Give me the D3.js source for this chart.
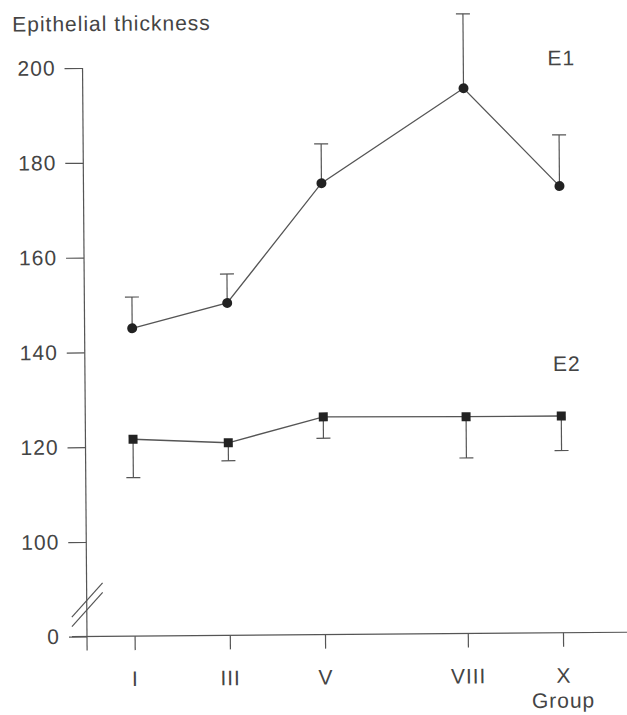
<!DOCTYPE html>
<html>
<head>
<meta charset="utf-8">
<script src="https://cdn.jsdelivr.net/npm/d3@7"></script>
<style>
	body { margin: 0; background: #fff; }
	svg text { font-family: "Liberation Sans", Arial, sans-serif; font-size: 21px; fill: #444; letter-spacing: 1px; }
</style>
</head>
<body>
<svg id="chart" width="627" height="715"></svg>
<script>
// group labels and their group number (drives the x spacing)
const groups = ['I', 'III', 'V', 'VIII', 'X'];
const groupNumbers = [1, 3, 5, 8, 10];

// E1 : mean + upper error bar
const e1Means = [145.0, 150.2, 175.3, 195.1, 174.3];
const e1Errors = [6.6, 6.1, 8.3, 15.7, 10.8];

// E2 : mean + lower error bar
const e2Means = [121.6, 120.7, 126.0, 125.8, 125.8];
const e2Errors = [8.1, 3.8, 4.5, 8.7, 7.3];

const yTicks = [0, 100, 120, 140, 160, 180, 200];

const INK = '#555';
const MARK = '#222';

const svg = d3.select('#chart');

// the scan is tilted a little, keep the same tilt
const canvas = svg.append('g').attr('transform', 'rotate(-0.45 87 636.5)');

const x = d3.scaleLinear().domain([0, 10]).range([87, 563]);
// broken axis: 0 sits just below 100
const y = d3.scaleLinear().domain([0, 100, 200]).range([636.5, 542, 68]);

// y axis
const yAxis = canvas
	.append('g')
	.attr('transform', `translate(${x(0)},0)`)
	.call(d3.axisLeft(y).tickValues(yTicks).tickSize(18).tickPadding(9).tickFormat(d3.format('d')));
yAxis.select('.domain').remove();
yAxis.selectAll('line').attr('stroke', INK).attr('stroke-width', 1.2);
yAxis.selectAll('text').attr('fill', '#444').style('font-size', '21px');

canvas
	.append('line')
	.attr('x1', x(0))
	.attr('x2', x(0))
	.attr('y1', y(200))
	.attr('y2', y(0) + 14)
	.attr('stroke', INK)
	.attr('stroke-width', 1.2);

// axis break marks
[600, 609.5].forEach((cy) => {
	canvas
		.append('line')
		.attr('x1', x(0) - 15)
		.attr('y1', cy + 17)
		.attr('x2', x(0) + 16)
		.attr('y2', cy - 17)
		.attr('stroke', INK)
		.attr('stroke-width', 1.2);
});

// x axis
const xAxis = canvas
	.append('g')
	.attr('transform', `translate(0,${y(0)})`)
	.call(d3.axisBottom(x).tickValues(groupNumbers).tickSize(14).tickPadding(21).tickFormat((d, i) => groups[i]));
xAxis.select('.domain').remove();
xAxis.selectAll('line').attr('stroke', INK).attr('stroke-width', 1.2);
xAxis.selectAll('text').attr('fill', '#444').style('font-size', '21px');

canvas
	.append('line')
	.attr('x1', x(0) - 15)
	.attr('x2', 640)
	.attr('y1', y(0))
	.attr('y2', y(0))
	.attr('stroke', INK)
	.attr('stroke-width', 1.2);

canvas
	.append('text')
	.attr('x', x(10))
	.attr('y', y(0) + 75)
	.attr('text-anchor', 'middle')
	.text('Group');

canvas
	.append('text')
	.attr('x', 17)
	.attr('y', 31)
	.text('Epithelial thickness');

function drawSeries(means, errors, dir, marker) {
	const pts = means.map((m, i) => ({ g: groupNumbers[i], m, e: errors[i] }));
	const line = d3.line().x((d) => x(d.g)).y((d) => y(d.m));

	canvas
		.append('path')
		.datum(pts)
		.attr('d', line)
		.attr('fill', 'none')
		.attr('stroke', INK)
		.attr('stroke-width', 1.3);

	const bars = canvas.append('g').selectAll('g').data(pts).enter().append('g');
	bars
		.append('line')
		.attr('x1', (d) => x(d.g))
		.attr('x2', (d) => x(d.g))
		.attr('y1', (d) => y(d.m))
		.attr('y2', (d) => y(d.m + dir * d.e))
		.attr('stroke', INK)
		.attr('stroke-width', 1.2);
	bars
		.append('line')
		.attr('x1', (d) => x(d.g) - 7)
		.attr('x2', (d) => x(d.g) + 7)
		.attr('y1', (d) => y(d.m + dir * d.e))
		.attr('y2', (d) => y(d.m + dir * d.e))
		.attr('stroke', INK)
		.attr('stroke-width', 1.2);

	if (marker === 'circle') {
		bars
			.append('circle')
			.attr('cx', (d) => x(d.g))
			.attr('cy', (d) => y(d.m))
			.attr('r', 5)
			.attr('fill', MARK);
	} else {
		bars
			.append('rect')
			.attr('x', (d) => x(d.g) - 4.5)
			.attr('y', (d) => y(d.m) - 4.5)
			.attr('width', 9)
			.attr('height', 9)
			.attr('fill', MARK);
	}
}

drawSeries(e1Means, e1Errors, 1, 'circle');
drawSeries(e2Means, e2Errors, -1, 'square');

// series names
canvas.append('text').attr('x', x(10) - 11).attr('y', y(200) + 1).text('E1');
canvas.append('text').attr('x', x(10) - 8).attr('y', y(135.3)).text('E2');
</script>
</body>
</html>
